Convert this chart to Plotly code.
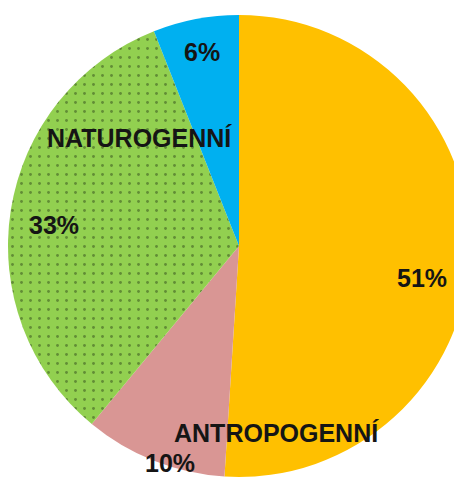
import plotly.graph_objects as go

labels = ["ANTROPOGENNÍ (orange)", "ANTROPOGENNÍ (pink)", "NATUROGENNÍ (green)", "NATUROGENNÍ (blue)"]
values = [51, 10, 33, 6]
colors = ["#FFC000", "#D99694", "#92D050", "#00B0F0"]
patterns = ["", "", ".", ""]
group_names = ["NATUROGENNÍ", "ANTROPOGENNÍ"]

W, H = 462, 485
OFF = 8  # page body margin offset

fig = go.Figure(go.Pie(
    labels=labels,
    values=values,
    sort=False,
    direction="clockwise",
    rotation=0,
    textinfo="none",
    hoverinfo="label+percent",
    marker=dict(
        colors=colors,
        line=dict(width=0),
        pattern=dict(shape=patterns, fgcolor="#2f4a1a", size=9, solidity=0.08, fillmode="overlay"),
    ),
    domain=dict(x=[0.0, 1.0], y=[1 - 469 / H, 1 - 7 / H]),
    showlegend=False,
))

total = sum(values)
pct = [f"{round(v * 100 / total)}%" for v in values]

# label placements (pixel centres in the screenshot)
pos_pct = [(422, 278), (170, 463), (54, 225), (202, 52)]
pos_names = [(139, 138), (276, 433)]

font = dict(family="Liberation Sans, Arial, sans-serif", size=25, color="#151515")
ann = []
for t, (x, y) in list(zip(pct, pos_pct)) + list(zip(group_names, pos_names)):
    ann.append(dict(text=f"<b>{t}</b>", x=(x - OFF) / W, y=1 - (y - OFF) / H,
                    xref="paper", yref="paper", showarrow=False, font=font,
                    xanchor="center", yanchor="middle"))

fig.update_layout(
    width=W, height=H,
    margin=dict(l=0, r=0, t=0, b=0),
    paper_bgcolor="white", plot_bgcolor="white",
    annotations=ann,
)

fig.write_html("out.html")
